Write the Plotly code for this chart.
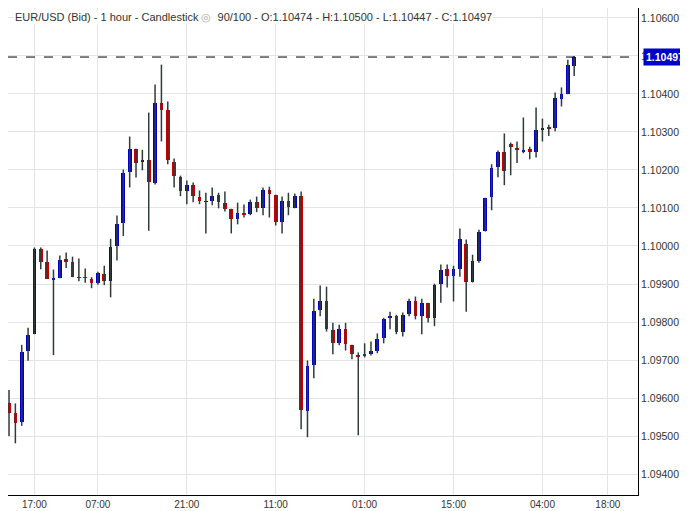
import plotly.graph_objects as go

opens = [1.09588,1.09560,1.09538,1.09725,1.09768,1.09993,1.09959,1.09910,1.09915,1.09967,
         1.09959,1.09918,1.09917,1.09914,1.09902,1.09927,1.09907,1.09999,1.10061,1.10194,
         1.10256,1.10220,1.10227,1.10167,1.10377,1.10359,1.10222,1.10182,1.10144,1.10161,
         1.10130,1.10117,1.10118,1.10135,1.10114,1.10096,1.10070,1.10088,1.10083,1.10117,
         1.10099,1.10146,1.10135,1.10062,1.10119,1.10101,1.10132,1.09565,1.09686,1.09831,
         1.09856,1.09780,1.09744,1.09782,1.09740,1.09714,1.09717,1.09718,1.09725,1.09757,
         1.09811,1.09815,1.09773,1.09820,1.09856,1.09815,1.09851,1.09810,1.09899,1.09940,
         1.09922,1.09940,1.10004,1.09904,1.09961,1.10039,1.10128,1.10207,1.10246,1.10267,
         1.10259,1.10249,1.10254,1.10246,1.10304,1.10311,1.10310,1.10386,1.10399,1.10474]
highs = [1.09621,1.09586,1.09740,1.09785,1.09996,1.09996,1.09988,1.09938,1.09975,1.09983,
         1.09972,1.09967,1.09941,1.09918,1.09932,1.09948,1.10019,1.10080,1.10201,1.10288,
         1.10256,1.10253,1.10351,1.10425,1.10477,1.10380,1.10230,1.10185,1.10172,1.10167,
         1.10146,1.10140,1.10154,1.10140,1.10143,1.10098,1.10114,1.10109,1.10122,1.10130,
         1.10154,1.10156,1.10135,1.10130,1.10140,1.10138,1.10143,1.09699,1.09861,1.09896,
         1.09893,1.09798,1.09793,1.09798,1.09740,1.09720,1.09744,1.09749,1.09770,1.09811,
         1.09827,1.09819,1.09825,1.09861,1.09867,1.09861,1.09851,1.09901,1.09951,1.09951,
         1.09948,1.10046,1.10017,1.09977,1.10043,1.10127,1.10215,1.10251,1.10296,1.10272,
         1.10275,1.10338,1.10261,1.10364,1.10335,1.10319,1.10404,1.10417,1.10490,1.10500]
lows = [1.09500,1.09481,1.09527,1.09698,1.09768,1.09939,1.09913,1.09713,1.09915,1.09942,
        1.09918,1.09907,1.09903,1.09889,1.09898,1.09897,1.09865,1.09962,1.10026,1.10154,
        1.10180,1.10199,1.10040,1.10162,1.10275,1.10215,1.10154,1.10131,1.10110,1.10115,
        1.10110,1.10033,1.10107,1.10099,1.10091,1.10033,1.10057,1.10075,1.10081,1.10089,
        1.10081,1.10075,1.10054,1.10033,1.10081,1.10099,1.09518,1.09497,1.09652,1.09815,
        1.09775,1.09715,1.09739,1.09725,1.09702,1.09502,1.09707,1.09712,1.09718,1.09744,
        1.09781,1.09768,1.09762,1.09815,1.09807,1.09768,1.09799,1.09789,1.09851,1.09891,
        1.09854,1.09919,1.09827,1.09904,1.09956,1.10038,1.10094,1.10181,1.10160,1.10186,
        1.10218,1.10244,1.10228,1.10233,1.10275,1.10289,1.10302,1.10367,1.10399,1.10447]
closes = [1.09560,1.09535,1.09722,1.09767,1.09993,1.09959,1.09913,1.09917,1.09964,1.09959,
          1.09919,1.09917,1.09916,1.09902,1.09930,1.09907,1.09998,1.10059,1.10193,1.10256,
          1.10219,1.10227,1.10169,1.10377,1.10357,1.10225,1.10185,1.10144,1.10161,1.10131,
          1.10118,1.10117,1.10132,1.10115,1.10096,1.10070,1.10088,1.10083,1.10117,1.10099,
          1.10146,1.10136,1.10062,1.10119,1.10102,1.10132,1.09568,1.09685,1.09830,1.09856,
          1.09781,1.09744,1.09782,1.09741,1.09715,1.09710,1.09712,1.09723,1.09756,1.09809,
          1.09815,1.09773,1.09819,1.09856,1.09815,1.09851,1.09810,1.09898,1.09938,1.09922,
          1.09940,1.10019,1.09906,1.09961,1.10038,1.10127,1.10206,1.10246,1.10196,1.10260,
          1.10252,1.10251,1.10248,1.10304,1.10311,1.10310,1.10390,1.10399,1.10475,1.10497]

tick_pos = [4, 14, 28, 42, 56, 70, 84, 94.3]
tick_text = ["17:00<br>Aug/13/24", "07:00<br>Aug/14/24", "21:00<br> ", "11:00<br>Aug/15/24",
             "01:00<br>Aug/16/24", "15:00<br> ", "04:00<br>Aug/19/24", "18:00<br> "]
price_ticks = [1.094, 1.095, 1.096, 1.097, 1.098, 1.099, 1.100, 1.101, 1.102, 1.103, 1.104, 1.105, 1.106]
last_price = 1.10497

idx = list(range(len(opens)))
BLUE, RED = "#0000c8", "#c80000"

fig = go.Figure()
wx, wy = [], []
for i in idx:
    wx += [i, i, None]
    wy += [lows[i], highs[i], None]
fig.add_trace(go.Scatter(x=wx, y=wy, mode="lines", line=dict(color="#2f3a3a", width=1.5),
                         hoverinfo="skip", showlegend=False))
base = [min(o, c) for o, c in zip(opens, closes)]
height = [max(abs(c - o), 0.000012) for o, c in zip(opens, closes)]
colors = [BLUE if c >= o else RED for o, c in zip(opens, closes)]
fig.add_trace(go.Bar(x=idx, y=height, base=base, width=0.58, marker=dict(color=colors, line=dict(width=0)),
                     showlegend=False))

fig.add_shape(type="line", xref="paper", x0=0, x1=1, y0=last_price, y1=last_price,
              line=dict(color="black", width=1, dash="dash"))
fig.add_annotation(xref="paper", x=1.008, y=last_price, text="<b>%.5f</b>" % last_price, showarrow=False,
                   xanchor="left", bgcolor=BLUE, font=dict(color="white", size=10.5, family="Arial"),
                   borderpad=2)
fig.add_annotation(xref="paper", yref="paper", x=0.008, y=0.997, xanchor="left", yanchor="top",
                   showarrow=False, bgcolor="rgba(255,255,255,0.85)",
                   text="EUR/USD (Bid) - 1 hour - Candlestick <span style='color:#aaa'>◎</span>  90/100 - O:1.10474 - H:1.10500 - L:1.10447 - C:1.10497",
                   font=dict(size=11, color="#333", family="Arial"))

fig.update_layout(
    width=688, height=511, margin=dict(l=0, r=58, t=0, b=24),
    plot_bgcolor="white", paper_bgcolor="white", bargap=0,
    xaxis=dict(range=[-0.16, 99.05], tickvals=tick_pos, ticktext=tick_text, showgrid=True,
               gridcolor="#e4e4e4", showline=True, linecolor="black", zeroline=False, automargin=False,
               ticklabelstandoff=0,
               tickfont=dict(size=10, color="#333", family="Arial"), ticks=""),
    yaxis=dict(range=[1.09345, 1.10626], side="right", tickvals=price_ticks, automargin=False,
               ticktext=["%.5f" % p for p in price_ticks], showgrid=True, gridcolor="#e4e4e4",
               showline=True, linecolor="black", zeroline=False, ticks="",
               tickfont=dict(size=10.5, color="#333", family="Arial")),
)
fig.write_html("out.html")
